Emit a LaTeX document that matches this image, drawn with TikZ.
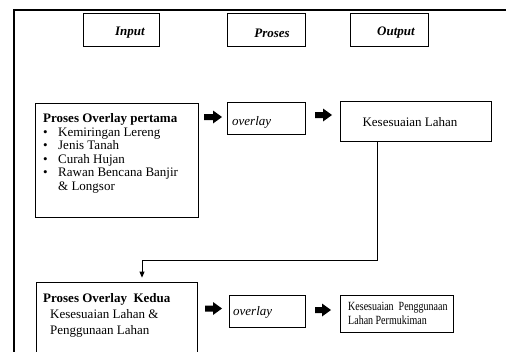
\documentclass[tikz,border=0pt]{standalone}
\usepackage{fontspec}
\setmainfont{Liberation Serif}
\newfontfamily\condfont[FakeStretch=0.8]{Liberation Serif}
\usetikzlibrary{arrows.meta}
\newcommand\fatarrow[3]{% x start, y centre, length
  \fill[black] (#1,#2-3) -- (#1+#3-9,#2-3) -- (#1+#3-9,#2-6.5) -- (#1+#3,#2)
    -- (#1+#3-9,#2+6.5) -- (#1+#3-9,#2+3) -- (#1,#2+3) -- cycle;}
\begin{document}
\begin{tikzpicture}[x=1pt,y=-1pt,
  box/.style={draw, line width=0.8pt, inner sep=0pt, rectangle},
  hdr/.style={font=\fontsize{13}{14}\selectfont\bfseries\itshape, inner sep=0pt},
  txt/.style={font=\fontsize{13}{13.5}\selectfont, inner sep=0pt, align=left},
  conn/.style={line width=0.8pt, -{Triangle[width=5pt,length=6pt]}}
]
\useasboundingbox (0,0) rectangle (506,351);
\begin{scope}
\clip (0,0) rectangle (506,351);
% outer frame
\draw[line width=1.8pt] (14,400) -- (14,10) -- (540,10);
% header boxes
\node[box, minimum width=76pt, minimum height=33pt] (hin) at (121,29.5) {};
\node[box, minimum width=78pt, minimum height=33pt] (hpr) at (266,29.5) {};
\node[box, minimum width=78pt, minimum height=33pt] (hout) at (389,29.5) {};
\node[hdr] (tin) at (130,33) {Input};
\node[hdr] (tpr) at (272,33) {Proses};
\node[hdr] (tout) at (396,33) {Output};
% row 1
\node[box, minimum width=163pt, minimum height=114pt] (in1) at (116.5,160) {};
\node[txt, anchor=north west] (in1t) at (43,113.5) {\textbf{Proses Overlay pertama}\\
\makebox[15pt][l]{•}Kemiringan Lereng\\
\makebox[15pt][l]{•}Jenis Tanah\\
\makebox[15pt][l]{•}Curah Hujan\\
\makebox[15pt][l]{•}Rawan Bencana Banjir\\
\hspace*{15pt}\& Longsor};
\node[box, minimum width=78pt, minimum height=32pt] (ov1) at (266,118) {};
\node[txt, anchor=west, font=\fontsize{13}{14}\selectfont\itshape] (ov1t) at (232,122) {overlay};
\node[box, minimum width=151pt, minimum height=40pt] (out1) at (415.5,121) {};
\node[txt] (out1t) at (410,122) {Kesesuaian Lahan};
\fatarrow{204}{117}{18}
\fatarrow{315}{115}{17}
% row 2
\node[box, minimum width=161pt, minimum height=118pt] (in2) at (116.5,341) {};
\node[txt, anchor=north west, font=\fontsize{13}{16}\selectfont] (in2t) at (43,293.5) {\textbf{Proses Overlay\ \ Kedua}\\
\hspace*{7pt}Kesesuaian Lahan \&\\
\hspace*{7pt}Penggunaan Lahan};
\node[box, minimum width=76pt, minimum height=32pt] (ov2) at (267,311) {};
\node[txt, anchor=west, font=\fontsize{13}{14}\selectfont\itshape] (ov2t) at (233,312) {overlay};
\node[box, minimum width=113pt, minimum height=37pt] (out2) at (396.5,313.5) {};
\node[txt, anchor=north west, font=\condfont\fontsize{12.5}{14}\selectfont] (out2t) at (348,302) {Kesesuaian\ \ Penggunaan\\Lahan Permukiman};
\fatarrow{205}{308.5}{17}
\fatarrow{315}{310}{16}
% connector
\coordinate (k1) at (377,260);
\coordinate (k2) at (142,260);
\draw[conn, shorten >=4pt] (out1.south -| k1) -- (k1) -- (k2) -- (k2 |- in2.north);
\end{scope}
\end{tikzpicture}
\end{document}
